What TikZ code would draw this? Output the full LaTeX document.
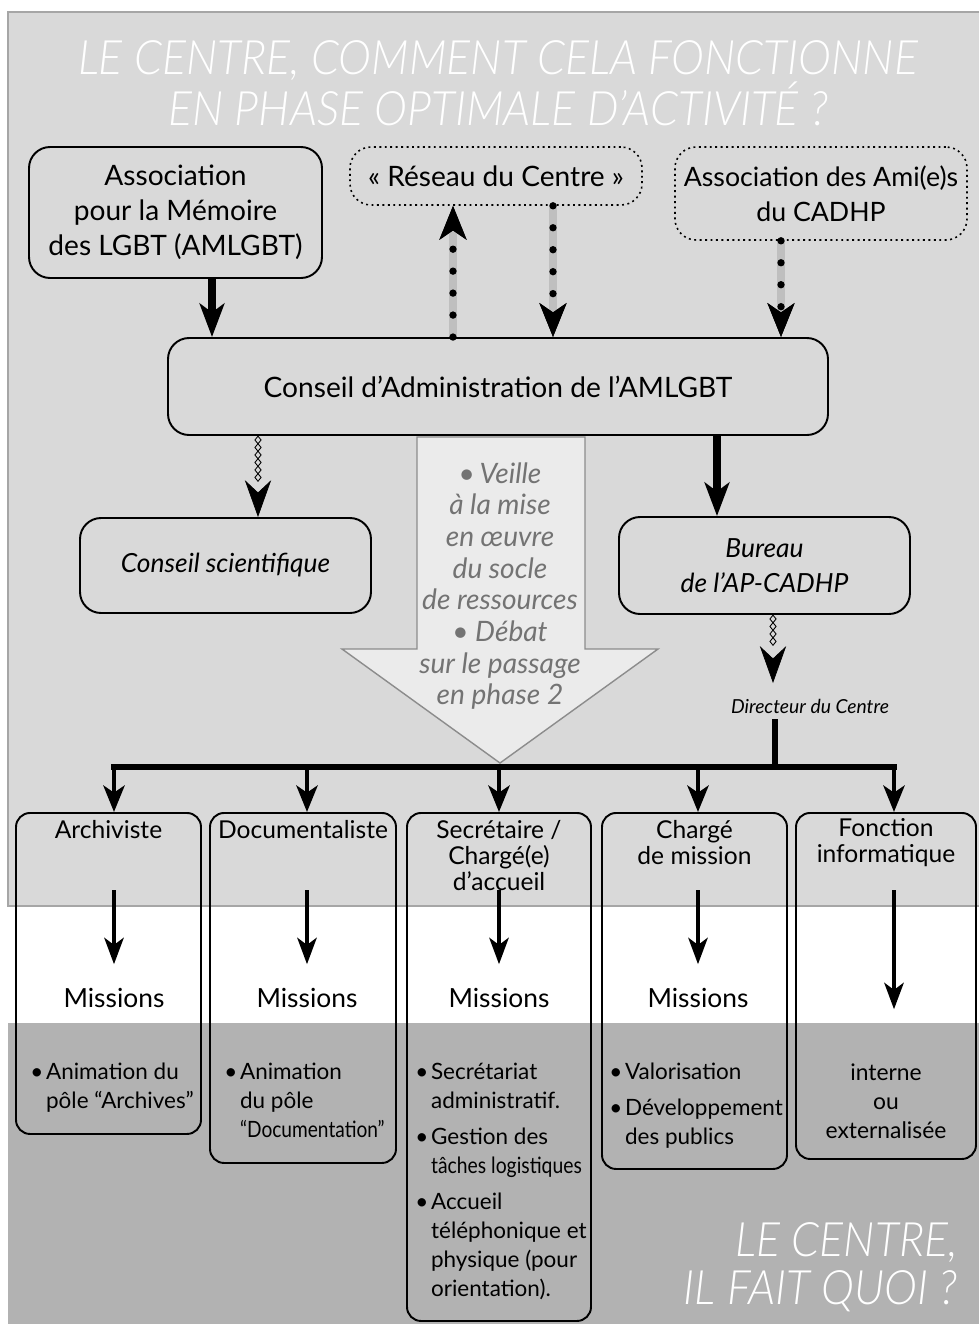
\documentclass[tikz,border=0pt]{standalone}
\usepackage{fontspec}
\setmainfont{Lato}
\newfontfamily\titrefont[FakeStretch=0.94]{Lato Light}
\usepackage{tikz}
\usetikzlibrary{arrows.meta,shapes.geometric,decorations.markings}

\newcommand{\unpx}{0.02cm}
\newcommand{\puce}{\makebox[0.7em][l]{\textbullet}}
\newcommand{\retrait}{\hspace*{0.7em}}

\begin{document}
\begin{tikzpicture}[x=0.02cm,y=-0.02cm]

    % Styles :
    \tikzstyle{bloc}=[draw, line width=1.1pt, rounded corners=12pt, align=center,
    inner sep=0pt, font=\fontsize{16}{19.8}\selectfont]
    \tikzstyle{blocit}=[bloc, font=\fontsize{15}{19.8}\selectfont\itshape]
    \tikzstyle{reseau}=[bloc, dotted, line width=0.9pt]
    \tikzstyle{poste}=[draw, line width=1.1pt, rounded corners=8pt, anchor=north, inner sep=0pt]
    \tikzstyle{intitule}=[align=center, inner sep=0pt, font=\fontsize{14}{14.8}\selectfont]
    \tikzstyle{missions}=[inner xsep=0pt, inner ysep=13.5pt, font=\fontsize{15}{17}\selectfont]
    \tikzstyle{liste}=[align=left, anchor=north west, inner sep=0pt, font=\fontsize{12.8}{16.5}\selectfont]
    \tikzstyle{titre}=[text=white, inner sep=0pt, font=\fontsize{27}{27.5}\selectfont\titrefont\itshape]
    \tikzstyle{socle}=[align=center, inner sep=0pt, text=black!55, font=\fontsize{16}{18}\selectfont\itshape]
    \tikzstyle{grosse}=[line width=4pt, -{Stealth[length=19pt, width=14pt, inset=5pt]}]
    \tikzstyle{pointille}=[draw=black!25, line width=4.5pt,
    -{Stealth[length=19pt, width=15pt, inset=5pt, color=black]},
    postaction={draw=black, line width=4.2pt, line cap=round, dash pattern=on 0pt off 12.5pt}]
    \tikzstyle{losange}=[diamond, draw, line width=0.5pt, inner sep=0pt,
    minimum width=0.13cm, minimum height=0.16cm]
    \tikzstyle{chaine}=[decorate, decoration={markings,
    mark=between positions 0.08cm and -0.72cm step 0.15cm with {\node[losange] {};},
    mark=at position 1 with {\arrow{Stealth[length=21pt, width=15pt, inset=7pt]}}}]
    \tikzstyle{barre}=[line width=3.4pt, line cap=rect]
    \tikzstyle{descente}=[line width=2.8pt, -{Stealth[length=15pt, width=12pt, inset=4pt]}]
    \tikzstyle{interne}=[line width=2.4pt, -{Stealth[length=15pt, width=11pt, inset=4pt]}]

    \newcommand{\poste}[4]{\node[poste, minimum width=#3*\unpx, minimum height=#4*\unpx] (#1) at (#2,812) {};}

    % Fond :
    \useasboundingbox (0,0) rectangle (978,1329);
    \filldraw[fill=black!15, draw=black!35, line width=0.6pt] (8,12) rectangle (990,906);
    \fill[black!30] (8,1023) rectangle (990,1324);

    % Titres :
    \node[titre, align=center] (titre1) at (498,83)
    {LE CENTRE, COMMENT CELA FONCTIONNE\\EN PHASE OPTIMALE D’ACTIVITÉ ?};
    \node[titre, align=right, anchor=east] (titre2) at (958,1267) {LE CENTRE,\\IL FAIT QUOI ?};

    % Blocs du haut :
    \node[bloc, minimum width=293*\unpx, minimum height=131*\unpx] (aml) at (175.5,212.5)
    {Association\\pour la Mémoire\\des LGBT (AMLGBT)};
    \node[reseau, minimum width=292*\unpx, minimum height=58*\unpx] (res) at (496,176)
    {« Réseau du Centre »};
    \node[reseau, minimum width=292*\unpx, minimum height=93*\unpx, font=\fontsize{15.2}{19.8}\selectfont]
    (amis) at (821,193.5) {Association des Ami(e)s\\du CADHP};
    \node[bloc, minimum width=660*\unpx, minimum height=97*\unpx] (cons) at (498,386.5)
    {Conseil d’Administration de l’AMLGBT};
    \node[blocit, minimum width=291*\unpx, minimum height=95*\unpx] (cs) at (225.5,565.5)
    {Conseil scientifique};
    \node[blocit, minimum width=291*\unpx, minimum height=97*\unpx] (bur) at (764.5,565.5)
    {Bureau\\de l’AP-CADHP};

    % Grande flèche :
    \filldraw[fill=black!8, draw=black!45, line width=0.8pt] (417,437) -- (585,437) -- (585,649)
    -- (658,649) -- (500,763) -- (342,649) -- (417,649) -- cycle;
    \node[socle] (socle) at (500,586) {\textbullet\,Veille\\à la mise\\en œuvre\\du socle\\de ressources\\%
    \textbullet\ Débat\\sur le passage\\en phase 2};

    % Flèches du haut :
    \draw[grosse] (aml.south -| 212,0) -- (cons.north -| 212,0);
    \draw[pointille] (cons.north -| 453,0) -- (res.south -| 453,0);
    \draw[pointille] (res.south -| 553,0) -- (cons.north -| 553,0);
    \draw[pointille] (amis.south -| 781,0) -- (cons.north -| 781,0);
    \draw[grosse] (cons.south -| 717,0) -- (bur.north -| 717,0);
    \path[chaine] (cons.south -| 258,0) -- (cs.north -| 258,0);

    \node[inner sep=0pt, font=\fontsize{11}{12}\selectfont\itshape] (dir) at (810,706) {Directeur du Centre};
    \coordinate (dirhaut) at (773,683);
    \coordinate (dirbas) at (775,722);
    \path[chaine] (bur.south -| 773,0) -- (dirhaut);

    % Postes :
    \poste{arch}{108.5}{185}{321}
    \poste{doc}{303}{186}{350}
    \poste{sec}{499}{184}{508}
    \poste{charg}{694.5}{185}{356}
    \poste{fonc}{886}{180}{346}

    \node[intitule] (archT) at (108.5,830) {Archiviste};
    \node[intitule] (docT) at (303,830) {Documentaliste};
    \node[intitule] (secT) at (499,856) {Secrétaire /\\Chargé(e)\\d’accueil};
    \node[intitule] (chargT) at (694.5,843) {Chargé\\de mission};
    \node[intitule] (foncT) at (886,843) {Fonction\\informatique};

    \node[liste] (archL) at (30,1063) {\puce Animation du\\\retrait pôle “Archives”};
    \node[liste] (docL) at (224,1063) {\puce Animation\\\retrait du pôle\\%
    \retrait\scalebox{0.85}[1]{“Documentation”}};
    \node[liste] (secL) at (415,1063) {\puce Secrétariat\\\retrait administratif.\\[4pt]%
    \puce Gestion des\\\retrait\scalebox{0.86}[1]{tâches logistiques}\\[4pt]%
    \puce Accueil\\\retrait téléphonique et\\\retrait physique (pour\\\retrait orientation).};
    \node[liste] (chargL) at (609,1063) {\puce Valorisation\\[4pt]\puce Développement\\\retrait des publics};
    \node[intitule, font=\fontsize{13}{16.5}\selectfont] (foncL) at (886,1101) {interne\\ou\\externalisée};

    % Barre et flèches :
    \coordinate (barG) at (114,767);
    \coordinate (barD) at (894,767);
    \draw[barre] (dirbas) -- (dirbas |- barG);
    \draw[barre] (barG) -- (barD);

    \foreach \xc/\b in {114/arch,307/doc,499/sec,698/charg,894/fonc}{
        \coordinate (d\b) at (\xc,767);
        \coordinate (f\b) at (\xc,890);
        \draw[descente] (d\b) -- (d\b |- \b.north);
    }
    \foreach \xc/\b in {114/arch,307/doc,499/sec,698/charg}{
        \node[missions] (m\b) at (\xc,998) {Missions};
        \draw[interne] (f\b) -- (m\b);
    }
    \draw[interne, shorten >=1.08cm] (ffonc) -- (ffonc |- foncL.north);

\end{tikzpicture}
\end{document}
